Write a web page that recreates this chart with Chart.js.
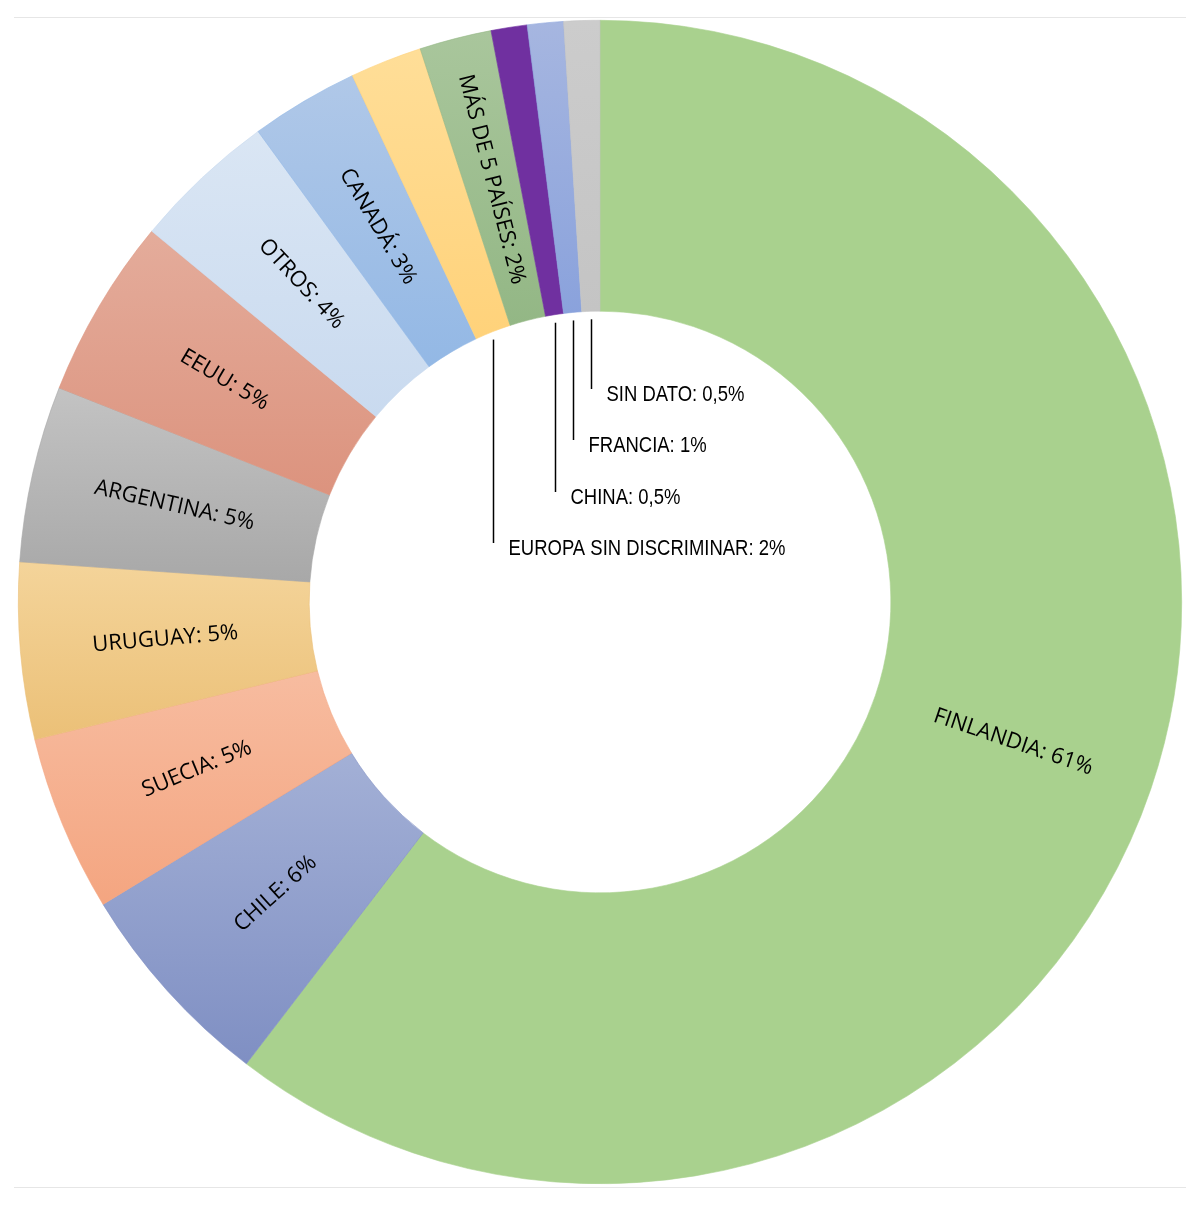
<!DOCTYPE html>
<html>
<head>
<meta charset="utf-8">
<script src="https://cdn.jsdelivr.net/npm/chart.js@4.4.1/dist/chart.umd.min.js"></script>
<style>
  html, body { margin: 0; padding: 0; background: #fff; }
  #wrap { position: relative; width: 1200px; height: 1205px; }
</style>
</head>
<body>
<div id="wrap"><canvas id="paises"></canvas></div>
<script>
// ---- datos ----
const paises = ['FINLANDIA', 'CHILE', 'SUECIA', 'URUGUAY', 'ARGENTINA', 'EEUU', 'OTROS',
  'CANADÁ', 'EUROPA SIN DISCRIMINAR', 'MÁS DE 5 PAÍSES', 'CHINA', 'FRANCIA', 'SIN DATO'];
const porcentaje = [60.4, 5.9, 4.9, 4.9, 4.9, 5.0, 4.0, 3.0, 2.0, 2.0, 1.0, 1.0, 1.0];
const etiquetas = ['61%', '6%', '5%', '5%', '5%', '5%', '4%', '3%', '2%', '2%', '0,5%', '1%', '0,5%'];

// colores (arriba -> abajo de cada sector)
const colorClaro = ['#a9d18e', '#a3b0d6', '#f7bca0', '#f4d49a', '#c3c3c3', '#e4ac9b', '#dae6f4',
  '#b0c8e8', '#ffde98', '#a9c69c', '#7030a0', '#a6b6e0', '#cccccc'];
const colorOscuro = ['#a9d18e', '#7f8fc3', '#f4a580', '#ebc077', '#a8a8a8', '#dc937e', '#c9daef',
  '#93b8e5', '#ffd27a', '#93b785', '#7030a0', '#8aa2dc', '#c4c4c4'];

// degradado vertical dentro de cada sector
function relleno(context) {
  const chart = context.chart;
  const i = context.dataIndex;
  const area = chart.chartArea;
  if (!area) return colorOscuro[i];
  const cx = (area.left + area.right) / 2;
  const cy = (area.top + area.bottom) / 2;
  const r = Math.min(area.width, area.height) / 2;
  const total = porcentaje.reduce((a, b) => a + b, 0);
  let acc = 0;
  for (let k = 0; k < i; k++) acc += porcentaje[k];
  const a0 = -Math.PI / 2 + acc / total * 2 * Math.PI;
  const a1 = a0 + porcentaje[i] / total * 2 * Math.PI;
  let yMin = Infinity, yMax = -Infinity;
  for (let s = 0; s <= 24; s++) {
    const a = a0 + (a1 - a0) * s / 24;
    [r, r * 0.5].forEach(rr => {
      const y = cy + rr * Math.sin(a);
      yMin = Math.min(yMin, y);
      yMax = Math.max(yMax, y);
    });
  }
  const g = chart.ctx.createLinearGradient(0, yMin, 0, yMax + 1);
  g.addColorStop(0, colorClaro[i]);
  g.addColorStop(1, colorOscuro[i]);
  return g;
}

// ---- etiquetas sobre el anillo y con guía ----
const etiquetasAnillo = {
  id: 'etiquetasAnillo',
  beforeDraw(chart) {
    const { ctx, width } = chart;
    ctx.save();
    ctx.strokeStyle = '#e6e6e6';
    ctx.lineWidth = 1;
    [17.5, 1187.5].forEach(y => {
      ctx.beginPath();
      ctx.moveTo(14, y);
      ctx.lineTo(width - 14, y);
      ctx.stroke();
    });
    ctx.restore();
  },
  afterDatasetsDraw(chart, args, opts) {
    const { ctx } = chart;
    const meta = chart.getDatasetMeta(0);
    meta.data.forEach((arc, i) => {
      const p = arc.getProps(['x', 'y', 'startAngle', 'endAngle', 'innerRadius', 'outerRadius'], true);
      const mid = (p.startAngle + p.endAngle) / 2;
      const texto = paises[i] + ': ' + etiquetas[i];
      ctx.save();
      ctx.fillStyle = '#000';
      if (opts.guias[i] !== undefined) {
        const lx = Math.round(p.x + p.innerRadius * Math.cos(mid)) + 0.5;
        const ly0 = p.y + p.innerRadius * Math.sin(mid) + 8;
        const ty = p.y + opts.guias[i];
        ctx.strokeStyle = '#000';
        ctx.lineWidth = 1.5;
        ctx.beginPath();
        ctx.moveTo(lx, ly0);
        ctx.lineTo(lx, ty - 5);
        ctx.stroke();
        // letra estrecha: se comprime en horizontal
        ctx.translate(lx + 15, ty + 1);
        ctx.scale(0.84, 1);
        ctx.font = opts.fuenteGuia;
        ctx.textAlign = 'left';
        ctx.textBaseline = 'middle';
        ctx.fillText(texto, 0, 0);
      } else {
        const rm = (p.innerRadius + p.outerRadius) / 2;
        ctx.translate(p.x + rm * Math.cos(mid), p.y + rm * Math.sin(mid));
        let rot = mid;
        if (Math.cos(mid) < 0) rot += Math.PI;
        ctx.rotate(rot);
        ctx.font = opts.fuente;
        ctx.textAlign = 'center';
        ctx.textBaseline = 'middle';
        ctx.fillText(texto, 0, 0);
      }
      ctx.restore();
    });
  }
};

new Chart(document.getElementById('paises'), {
  type: 'doughnut',
  data: {
    labels: paises,
    datasets: [{
      data: porcentaje,
      backgroundColor: relleno,
      borderColor: colorOscuro,
      borderWidth: 0.6
    }]
  },
  options: {
    responsive: true,
    maintainAspectRatio: false,
    animation: false,
    cutout: '50%',
    layout: { padding: { left: 18, right: 18, top: 20, bottom: 21 } },
    plugins: {
      legend: { display: false },
      tooltip: { enabled: false },
      etiquetasAnillo: {
        fuente: '22px "Open Sans"',
        fuenteGuia: '22px "Liberation Sans", Arial',
        // desplazamiento vertical del texto respecto al centro
        guias: { 8: -54, 10: -105, 11: -157, 12: -208 }
      }
    }
  },
  plugins: [etiquetasAnillo]
});
</script>
</body>
</html>
